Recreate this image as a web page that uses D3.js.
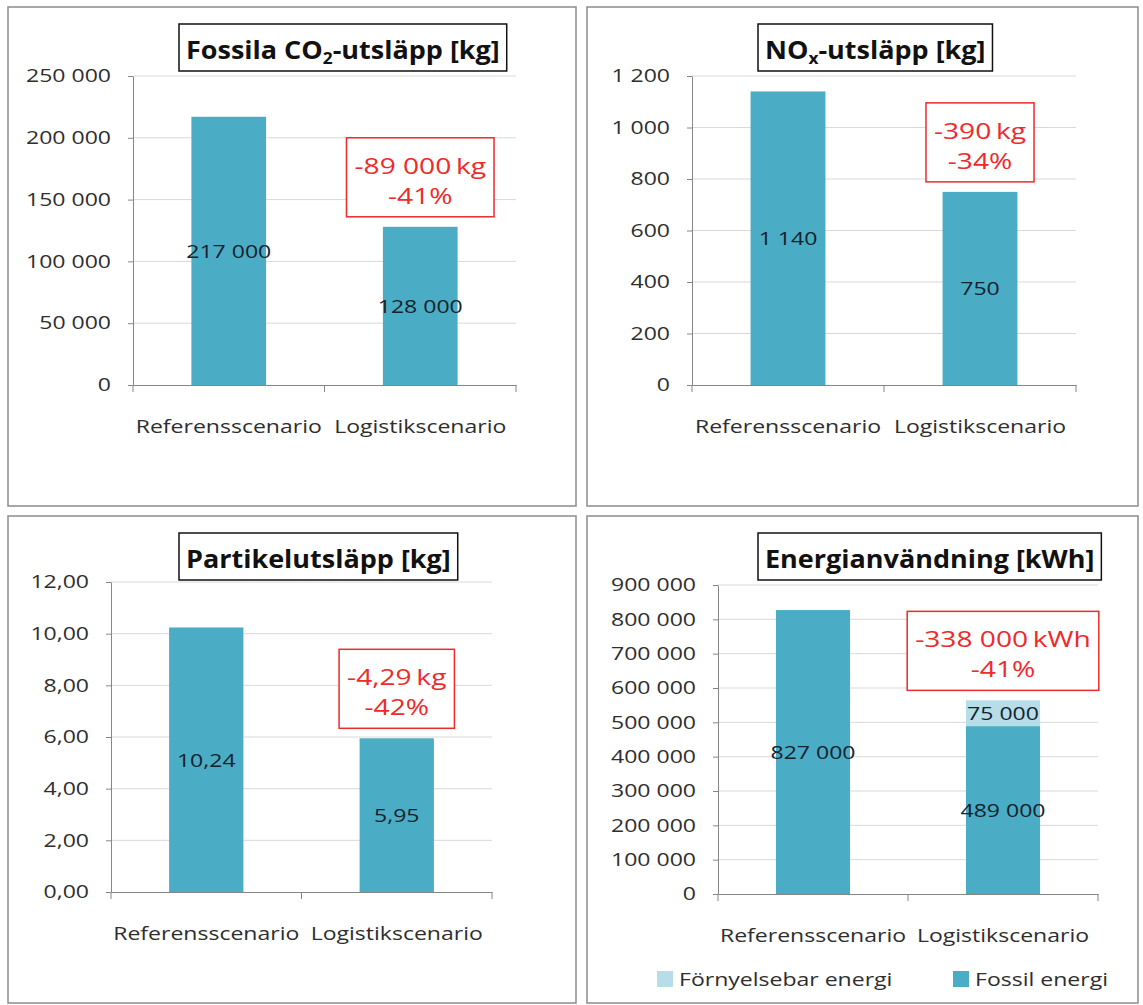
<!DOCTYPE html>
<html>
<head>
<meta charset="utf-8">
<script src="https://cdn.jsdelivr.net/npm/d3@7"></script>
<style>
  body { margin: 0; background: #fff; }
  text { font-family: "Open Sans", "DejaVu Sans", sans-serif; }
</style>
</head>
<body>
<div id="chart"></div>
<script>
// --- data ---
var scenarios = ["Referensscenario", "Logistikscenario"];

var co2Title = ["Fossila CO", "2", "-utsläpp [kg]"];
var co2Values = [217000, 128000];
var co2Ticks = [0, 50000, 100000, 150000, 200000, 250000];

var noxTitle = ["NO", "x", "-utsläpp [kg]"];
var noxValues = [1140, 750];
var noxTicks = [0, 200, 400, 600, 800, 1000, 1200];

var partTitle = ["Partikelutsläpp [kg]"];
var partValues = [10.24, 5.95];
var partTicks = [0, 2, 4, 6, 8, 10, 12];

var energyTitle = ["Energianvändning [kWh]"];
var energyFossil = [827000, 489000];
var energyRenewable = [0, 75000];
var energyTicks = [0, 100000, 200000, 300000, 400000, 500000, 600000, 700000, 800000, 900000];
var energySeries = ["Förnyelsebar energi", "Fossil energi"];

// svensk talformat: mellanslag som tusentalsavgränsare, komma som decimal
var sv = d3.formatLocale({ decimal: ",", thousands: "\u00a0", grouping: [3], currency: ["", " kr"] });
var fmtInt = sv.format(",d");
var fmtDec = sv.format(",.2f");

var FOSSIL = "#4bacc6", RENEW = "#b7dde8", RED = "#f02a2a", INK = "#2e2e2e";
var SX = 1.28;      // bilden är utdragen i sidled
var SXT = 1.08;

var panels = [
  { title: co2Title, unit: "kg", fossil: co2Values, renew: null, ticks: co2Ticks, fmt: fmtInt,
    px: 8, py: 7, pw: 568, ph: 499, left: 133, right: 516, top: 76, bottom: 385, titleY: 24 },
  { title: noxTitle, unit: "kg", fossil: noxValues, renew: null, ticks: noxTicks, fmt: fmtInt,
    px: 587, py: 7, pw: 551, ph: 499, left: 692, right: 1076, top: 76, bottom: 385, titleY: 24 },
  { title: partTitle, unit: "kg", fossil: partValues, renew: null, ticks: partTicks, fmt: fmtDec,
    px: 8, py: 516, pw: 568, ph: 487, left: 111, right: 492, top: 582, bottom: 892, titleY: 533 },
  { title: energyTitle, unit: "kWh", fossil: energyFossil, renew: energyRenewable, ticks: energyTicks, fmt: fmtInt,
    px: 587, py: 516, pw: 551, ph: 487, left: 718, right: 1098, top: 585, bottom: 894, titleY: 533, legend: true }
];

var svg = d3.select("#chart").append("svg")
  .attr("width", 1143)
  .attr("height", 1005);

// text med horisontell sträckning
function label(parent, x, y, str, size, anchor, color) {
  return parent.append("text")
    .attr("transform", "translate(" + x + "," + y + ") scale(" + SX + ",1)")
    .attr("font-size", size)
    .attr("text-anchor", anchor)
    .attr("fill", color)
    .text(str);
}

panels.forEach(function(p) {
  var g = svg.append("g");

  // ram runt diagrammet
  g.append("rect")
    .attr("x", p.px).attr("y", p.py)
    .attr("width", p.pw).attr("height", p.ph)
    .attr("fill", "#fff")
    .attr("stroke", "#8c8c8c")
    .attr("stroke-width", 1.5);

  var rows = scenarios.map(function(s, i) {
    return { name: s, fossil: p.fossil[i], renew: p.renew ? p.renew[i] : 0 };
  });
  var stacked = d3.stack().keys(["fossil", "renew"])(rows);

  var x = d3.scaleBand()
    .domain(scenarios)
    .range([p.left, p.right])
    .paddingInner(0.61)
    .paddingOuter(0.305);

  var y = d3.scaleLinear()
    .domain([0, d3.max(p.ticks)])
    .range([p.bottom, p.top]);

  // stödlinjer
  g.append("g")
    .selectAll("line")
    .data(p.ticks.filter(function(t) { return t > 0; }))
    .enter()
    .append("line")
    .attr("x1", p.left).attr("x2", p.right)
    .attr("y1", function(d) { return y(d); })
    .attr("y2", function(d) { return y(d); })
    .attr("stroke", "#d9d9d9")
    .attr("stroke-width", 1);

  // staplar
  var colors = { fossil: FOSSIL, renew: RENEW };
  stacked.forEach(function(layer) {
    g.append("g")
      .selectAll("rect")
      .data(layer)
      .enter()
      .append("rect")
      .attr("x", function(d) { return x(d.data.name); })
      .attr("width", x.bandwidth())
      .attr("y", function(d) { return y(d[1]); })
      .attr("height", function(d) { return y(d[0]) - y(d[1]); })
      .attr("fill", colors[layer.key]);

    layer.forEach(function(d) {
      var v = d[1] - d[0];
      if (v <= 0) return;
      label(g, x(d.data.name) + x.bandwidth() / 2, y((d[0] + d[1]) / 2) + 7,
        p.fmt(v), 18, "middle", "#14232b");
    });
  });

  // y-axel
  var yAxis = g.append("g")
    .attr("transform", "translate(" + p.left + ",0)")
    .call(d3.axisLeft(y).tickValues(p.ticks).tickFormat(p.fmt).tickSizeInner(5).tickSizeOuter(0));
  yAxis.select(".domain").attr("stroke", "#868686");
  yAxis.selectAll(".tick line").attr("stroke", "#868686");
  yAxis.selectAll(".tick text")
    .attr("transform", "scale(" + SX + ",1)")
    .attr("x", -22 / SX)
    .attr("font-size", 18)
    .attr("font-family", null)
    .attr("fill", INK);

  // x-axel
  var xAxis = g.append("g")
    .attr("transform", "translate(0," + p.bottom + ")")
    .call(d3.axisBottom(x).tickSize(0).tickPadding(0));
  xAxis.select(".domain").attr("stroke", "#868686");
  xAxis.selectAll(".tick text")
    .attr("transform", "scale(" + SX + ",1)")
    .attr("y", 48)
    .attr("dy", 0)
    .attr("font-size", 18)
    .attr("font-family", null)
    .attr("fill", INK);
  xAxis.selectAll(".boundary")
    .data(d3.range(scenarios.length + 1))
    .enter()
    .append("line")
    .attr("x1", function(i) { return p.left + i * (p.right - p.left) / scenarios.length; })
    .attr("x2", function(i) { return p.left + i * (p.right - p.left) / scenarios.length; })
    .attr("y1", 0).attr("y2", 7)
    .attr("stroke", "#868686");

  // rubrik i ruta
  var tg = g.append("g");
  var t = tg.append("text")
    .attr("transform", "translate(" + (p.px + 178) + "," + (p.titleY + 35) + ") scale(" + SXT + ",1)")
    .attr("font-size", 25)
    .attr("font-weight", 700)
    .attr("fill", "#111");
  p.title.forEach(function(part, i) {
    var ts = t.append("tspan").text(part);
    if (i % 2 === 1) ts.attr("font-size", 16).attr("dy", 5);
    else if (i > 0) ts.attr("dy", -5);
  });
  var tw = t.node().getComputedTextLength() * SXT;
  tg.insert("rect", "text")
    .attr("x", p.px + 171).attr("y", p.titleY)
    .attr("width", tw + 14).attr("height", 47)
    .attr("fill", "#fff")
    .attr("stroke", "#111")
    .attr("stroke-width", 1.5);

  // förändring mellan scenarierna
  var diff = p.fossil[0] - p.fossil[1];
  var pct = Math.round(diff / p.fossil[0] * 100);
  var lines = ["-" + p.fmt(diff) + "\u2009" + p.unit, "-" + pct + "%"];
  var cx = x(scenarios[1]) + x.bandwidth() / 2;
  var topVal = p.fossil[1] + (p.renew ? p.renew[1] : 0);
  var boxBottom = y(topVal) - 10;
  var boxTop = boxBottom - 79;
  var ag = g.append("g");
  var widths = lines.map(function(s, i) {
    var tt = label(ag, cx, boxTop + 36 + i * 30, s, 22, "middle", RED);
    return tt.node().getComputedTextLength() * SX;
  });
  var bw = d3.max(widths) + 16;
  ag.insert("rect", "text")
    .attr("x", cx - bw / 2).attr("y", boxTop)
    .attr("width", bw).attr("height", 79)
    .attr("fill", "#fff")
    .attr("stroke", RED)
    .attr("stroke-width", 1.5);

  // teckenförklaring
  if (p.legend) {
    var items = [
      { name: energySeries[0], color: RENEW, dx: 70 },
      { name: energySeries[1], color: FOSSIL, dx: 366 }
    ];
    var lg = g.append("g");
    items.forEach(function(it) {
      lg.append("rect")
        .attr("x", p.px + it.dx).attr("y", p.bottom + 77)
        .attr("width", 16).attr("height", 16)
        .attr("fill", it.color);
      label(lg, p.px + it.dx + 22, p.bottom + 92, it.name, 18, "start", INK);
    });
  }
});
</script>
</body>
</html>
